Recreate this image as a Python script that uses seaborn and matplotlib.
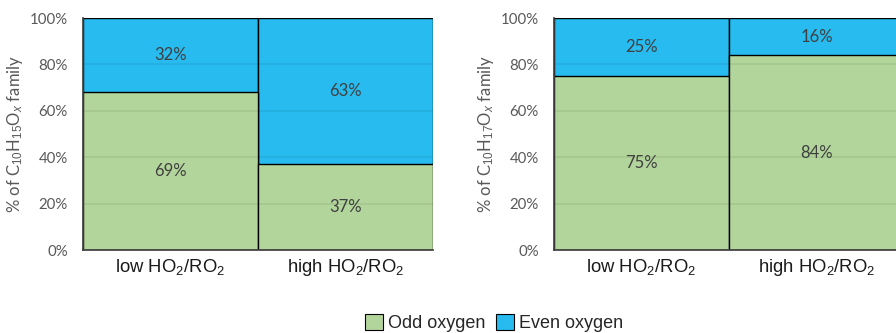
import matplotlib
matplotlib.use("Agg")
import matplotlib.pyplot as plt
from matplotlib.patches import Patch
import seaborn as sns
import pandas as pd

# Shares of each monomer-derived family, split into odd/even oxygen numbers
conditions = ["low HO$_2$/RO$_2$", "high HO$_2$/RO$_2$"]
c15_odd = [69, 37]
c15_even = [32, 63]
c17_odd = [75, 84]
c17_even = [25, 16]

ylabels = ["% of C$_{10}$H$_{15}$O$_x$ family", "% of C$_{10}$H$_{17}$O$_x$ family"]
series_names = ["Odd oxygen", "Even oxygen"]

GREEN = "#b2d59b"
BLUE = "#27bbef"
GRAY = "#595959"
LABEL = "#404040"

sns.set_theme(style="white")
plt.rcParams["font.family"] = ["Lato", "DejaVu Sans"]
plt.rcParams["mathtext.fontset"] = "custom"
plt.rcParams["mathtext.rm"] = "Liberation Sans"
plt.rcParams["mathtext.it"] = "Liberation Sans:italic"
plt.rcParams["mathtext.bf"] = "Liberation Sans:bold"

fig = plt.figure(figsize=(8.96, 3.33), dpi=100)
ax_w = 350 / 896
ax_h = 232 / 333
bottom = 1 - 250 / 333
axes = [fig.add_axes([83 / 896, bottom, ax_w, ax_h]),
        fig.add_axes([554 / 896, bottom, ax_w, ax_h])]

panels = [(c15_odd, c15_even), (c17_odd, c17_even)]

for ax, (odd, even), ylab in zip(axes, panels, ylabels):
    total = [o + e for o, e in zip(odd, even)]
    odd_pct = [100 * o / t for o, t in zip(odd, total)]
    df = pd.DataFrame({"condition": conditions, "odd": odd_pct,
                       "full": [100.0] * len(conditions)})
    # full-height bar first (even share shows above the odd share)
    sns.barplot(data=df, x="condition", y="full", color=BLUE, width=1.0,
                edgecolor="black", linewidth=1.0, saturation=1, ax=ax)
    sns.barplot(data=df, x="condition", y="odd", color=GREEN, width=1.0,
                edgecolor="black", linewidth=1.0, saturation=1, ax=ax)

    for y in (20, 40, 60, 80):
        ax.axhline(y, color="#000000", alpha=0.07, lw=1.2, zorder=2.5)

    for i, (o, e, op) in enumerate(zip(odd, even, odd_pct)):
        ax.text(i, op / 2, f"{o}%", ha="center", va="center",
                fontsize=12, color=LABEL, zorder=4)
        ax.text(i, op + (100 - op) / 2, f"{e}%", ha="center", va="center",
                fontsize=12, color=LABEL, zorder=4)

    ax.set_xlim(-0.5, 1.5)
    ax.set_ylim(0, 100)
    ax.set_yticks([0, 20, 40, 60, 80, 100])
    ax.set_yticklabels([f"{v}%" for v in range(0, 101, 20)])
    ax.tick_params(axis="y", length=0, pad=11, labelsize=10.8, labelcolor=GRAY)
    ax.set_xticks(range(len(conditions)))
    ax.set_xticklabels(conditions, fontfamily="Liberation Sans", fontsize=13.3,
                       color="#1a1a1a")
    ax.tick_params(axis="x", length=0, pad=5)
    ax.set_xlabel("")
    ax.set_ylabel(ylab, fontsize=12, color=GRAY)
    ax.yaxis.set_label_coords(-0.165, 0.5)
    for side in ("top", "right"):
        ax.spines[side].set_visible(False)
    ax.spines["left"].set_color("#404040")
    ax.spines["bottom"].set_color("#404040")
    ax.grid(False)

handles = [Patch(facecolor=GREEN, edgecolor="black", lw=0.8, label=series_names[0]),
           Patch(facecolor=BLUE, edgecolor="black", lw=0.8, label=series_names[1])]
fig.legend(handles=handles, loc="center", bbox_to_anchor=(494 / 896, 1 - 323 / 333),
           ncol=2, frameon=False, handlelength=1.0, handleheight=1.0,
           handletextpad=0.25, columnspacing=0.6,
           prop={"family": ["Liberation Sans", "DejaVu Sans"], "size": 13})

fig.savefig("out.png", dpi=100)
